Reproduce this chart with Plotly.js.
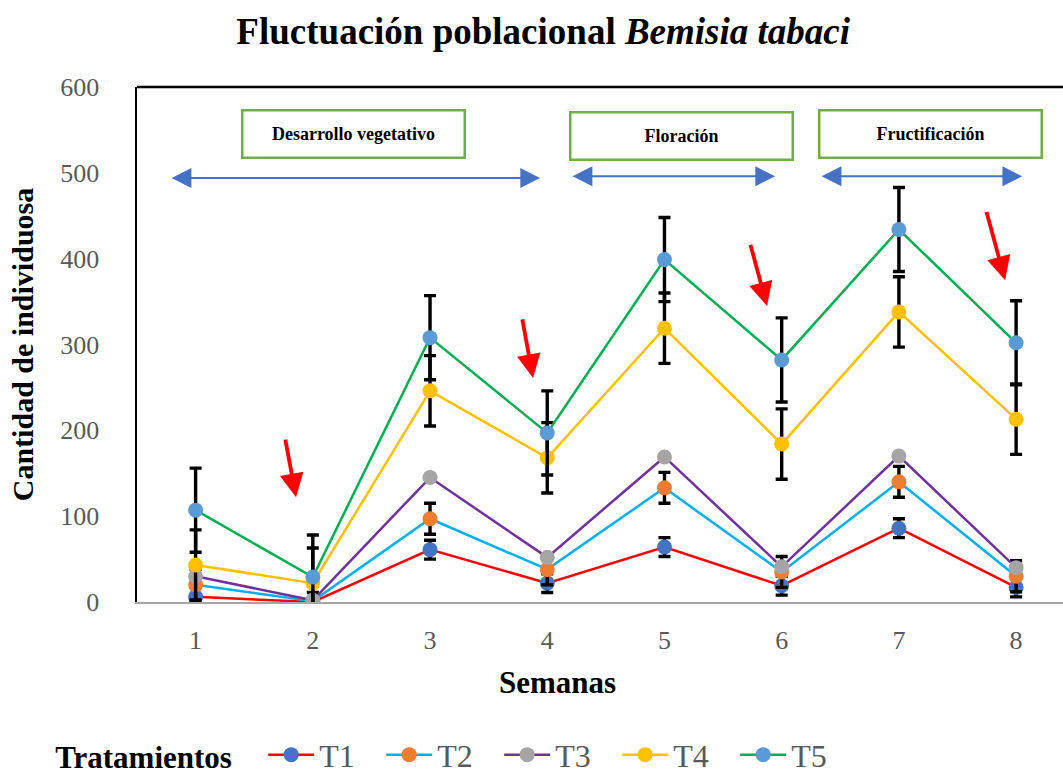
<!DOCTYPE html>
<html>
<head>
<meta charset="utf-8">
<script src="https://cdn.plot.ly/plotly-3.0.1.min.js"></script>
<style>html,body{margin:0;padding:0;background:#fff;overflow:hidden}#chart{width:1063px;height:775px}</style>
</head>
<body>
<div id="chart"></div>
<script>
const semanas = [1, 2, 3, 4, 5, 6, 7, 8];
const seriesNames = ["T1", "T2", "T3", "T4", "T5"];
const T1 = [6, 0, 61, 22, 64, 19, 86, 17];
const T2 = [20, 1, 97, 38, 133, 35, 140, 30];
const T3 = [30, 2, 145, 52, 169, 41, 170, 40];
const T4 = [43, 22, 246, 168, 319, 184, 338, 213];
const T5 = [107, 29, 308, 197, 399, 282, 434, 302];
const errT1 = [11, 11, 11, 11, 11, 11, 11, 11];
const errT2 = [18, 18, 18, 18, 18, 18, 18, 18];
const errT3 = null;
const errT4 = [41, 41, 41, 41, 41, 41, 41, 41];
const errT5 = [49, 49, 49, 49, 49, 49, 49, 49];
const yTicks = [0, 100, 200, 300, 400, 500, 600];
const fases = ["Desarrollo vegetativo", "Floración", "Fructificación"];

const values = [T1, T2, T3, T4, T5];
const errs = [errT1, errT2, errT3, errT4, errT5];
const lineColors = ["#FF0000", "#00B0F0", "#7030A0", "#FFC000", "#00B050"];
const markerColors = ["#4472C4", "#ED7D31", "#A5A5A5", "#FFC000", "#5B9BD5"];
const serif = "Liberation Serif, Times New Roman, serif";

const traces = values.map((v, i) => {
  const t = {
    type: "scatter", mode: "lines+markers", name: seriesNames[i],
    x: semanas, y: v,
    line: {color: lineColors[i], width: 2.5},
    marker: {color: markerColors[i], size: 15},
  };
  if (errs[i]) {
    t.error_y = {type: "data", array: errs[i], visible: true, color: "#000000", thickness: 3.4, width: 6};
  }
  return t;
});

const boxFont = {family: serif, size: 18, color: "#000000"};
const box = (text, x, y) => ({
  text: "<b>" + text + "</b>", x: x, y: y, xref: "x", yref: "y", showarrow: false,
  bordercolor: "#70AD47", borderwidth: 2.5, borderpad: 0, width: 220, height: 45,
  bgcolor: "#ffffff", font: boxFont, xanchor: "center", yanchor: "middle"
});
const dbl = (x0, x1, y) => ({
  text: "", x: x1, y: y, ax: x0, ay: y, xref: "x", yref: "y", axref: "x", ayref: "y",
  showarrow: true, arrowside: "end+start", arrowhead: 2, startarrowhead: 2,
  arrowsize: 2.2, startarrowsize: 2.2, arrowwidth: 1.8, arrowcolor: "#4472C4", standoff: 0, startstandoff: 0
});
const red = (x0, y0, x1, y1) => ({
  text: "", x: x1, y: y1, ax: x0, ay: y0, xref: "x", yref: "y", axref: "x", ayref: "y",
  showarrow: true, arrowhead: 2, arrowsize: 1.25, arrowwidth: 3.8, arrowcolor: "#FF0000", standoff: 0
});

const annotations = [
  box(fases[0], 2.347, 545),
  box(fases[1], 5.146, 543),
  box(fases[2], 7.266, 545),
  dbl(0.782, 3.939, 494),
  dbl(4.203, 5.944, 496),
  dbl(6.328, 8.052, 496),
  red(1.763, 191, 1.857, 122),
  red(3.785, 331, 3.879, 261),
  red(5.730, 418, 5.875, 345),
  red(7.744, 456, 7.906, 375),
  {text: "<b>Semanas</b>", xref: "paper", yref: "paper", x: 0.4536, y: -0.157,
   xanchor: "center", yanchor: "middle", showarrow: false,
   font: {family: serif, size: 31, color: "#000000"}}
];

const layout = {
  width: 1063, height: 775,
  margin: {l: 137, r: 0, t: 87, b: 173, pad: 0},
  paper_bgcolor: "#ffffff", plot_bgcolor: "#ffffff",
  title: {
    text: "<b>Fluctuación poblacional <i>Bemisia tabaci</i></b>",
    font: {family: serif, size: 37, color: "#000000"},
    x: 0.511, xref: "container", xanchor: "center",
    y: 0.96, yref: "container", yanchor: "middle"
  },
  xaxis: {
    range: [0.5, 8.4], tickvals: semanas, ticktext: semanas.map(String),
    showgrid: false, zeroline: false, showline: true, linecolor: "#A6A6A6", linewidth: 2,
    ticks: "", ticklabelstandoff: 14,
    tickfont: {family: serif, size: 26, color: "#595959"}
  },
  yaxis: {
    range: [0, 600], tickvals: yTicks,
    showgrid: false, zeroline: false, showline: true, linecolor: "#000000", linewidth: 2.5,
    ticks: "", ticklabelstandoff: 30,
    tickfont: {family: serif, size: 26, color: "#595959"},
    title: {text: "<b>Cantidad de individuosa</b>", font: {family: serif, size: 30, color: "#000000"}, standoff: 18}
  },
  shapes: [
    {type: "line", xref: "paper", yref: "paper", x0: 0, x1: 1, y0: 1, y1: 1, line: {color: "#000000", width: 2.5}, layer: "below"}
  ],
  showlegend: true,
  legend: {
    orientation: "h", xref: "container", yref: "container",
    x: 0.05, y: 0.026, xanchor: "left", yanchor: "middle",
    title: {text: "<b>Tratamientos</b>\u00A0\u00A0\u00A0", side: "left", font: {family: serif, size: 31, color: "#000000"}},
    font: {family: serif, size: 32, color: "#595959"},
    entrywidth: 57, itemwidth: 46, bgcolor: "rgba(0,0,0,0)"
  },
  annotations: annotations
};

Plotly.newPlot("chart", traces, layout, {displayModeBar: false, staticPlot: true});
</script>
</body>
</html>
